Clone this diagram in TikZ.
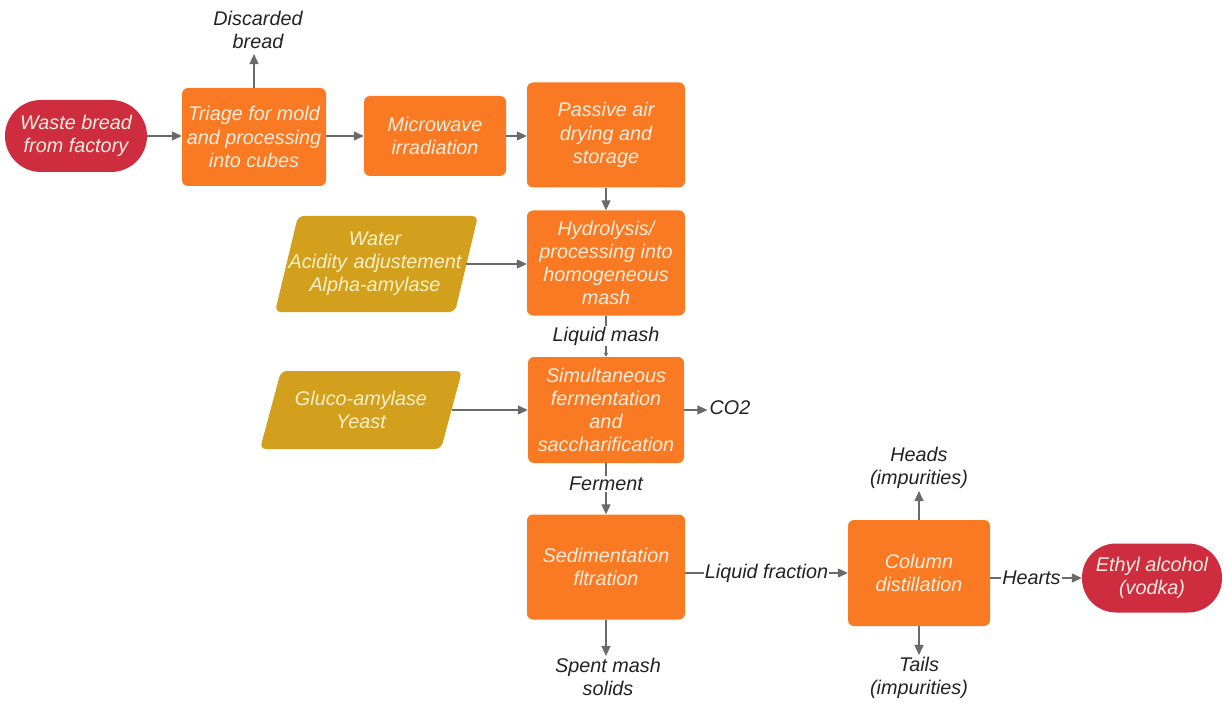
\documentclass[tikz,border=0pt]{standalone}
\usepackage{fontspec}
\setmainfont{Liberation Sans}
\usetikzlibrary{arrows.meta}
\definecolor{orangec}{HTML}{F97A22}
\definecolor{redc}{HTML}{CD2D3F}
\definecolor{goldc}{HTML}{D3A01E}
\definecolor{boxtext}{RGB}{255,236,222}
\definecolor{goldtext}{RGB}{255,240,200}
\definecolor{labc}{HTML}{222222}
\definecolor{arrc}{HTML}{6A6A6A}
\begin{document}
\begin{tikzpicture}[x=1pt,y=-1pt,
  txt/.style={font=\itshape\fontsize{19.8}{23.2}\selectfont, align=center},
  proc/.style={txt, fill=orangec, rounded corners=6pt, text=boxtext, inner sep=0pt},
  term/.style={txt, fill=redc, text=boxtext, inner sep=0pt},
  gtext/.style={txt, text=goldtext, inner sep=0pt},
  lab/.style={txt, text=labc, fill=white, inner sep=2pt},
  arr/.style={draw=arrc, line width=1.3pt, -{Triangle[length=10pt,width=9pt]}},
  arrs/.style={draw=arrc, line width=1.3pt, -{Triangle[length=4pt,width=4pt]}}]
\useasboundingbox[fill=white] (0,0) rectangle (1225,703);

% parallelograms
\fill[goldc, rounded corners=6pt] (275,312) -- (298,216) -- (478,216) -- (455,312) -- cycle;
\fill[goldc, rounded corners=6pt] (260,449) -- (281,371) -- (462,371) -- (441,449) -- cycle;
\node[gtext, text width=182pt, minimum width=182pt] (water) at (375,264) {Water\\Acidity adjustement\\Alpha-amylase};
\node[gtext, text width=181pt, minimum width=181pt] (gluco) at (361,410) {Gluco-amylase\\Yeast};

% process boxes
\node[term, minimum width=142pt, minimum height=72pt, rounded corners=36pt] (waste) at (76,136) {Waste bread\\from factory};
\node[proc, minimum width=144pt, minimum height=98pt] (triage) at (254,137) {Triage for mold\\and processing\\into cubes};
\node[proc, minimum width=142pt, minimum height=80pt] (micro) at (435,136) {Microwave\\irradiation};
\node[proc, minimum width=158pt, minimum height=105pt] (passive) at (606,135) {Passive air\\drying and\\storage};
\node[proc, minimum width=158pt, minimum height=105pt] (hyd) at (606,263) {Hydrolysis/\\processing into\\homogeneous\\mash};
\node[proc, minimum width=156pt, minimum height=106pt] (simul) at (606,410) {Simultaneous\\fermentation\\and\\saccharification};
\node[proc, minimum width=158pt, minimum height=105pt] (sed) at (606,567) {Sedimentation\\fltration};
\node[proc, minimum width=142pt, minimum height=106pt] (col) at (919,573) {Column\\distillation};
\node[term, minimum width=140pt, minimum height=69pt, rounded corners=34pt] (ethyl) at (1152,578) {Ethyl alcohol\\(vodka)};

% labels
\node[lab] (disc) at (258,30) {Discarded\\bread};
\node[lab] (co2) at (730,408) {CO2};
\node[lab] (spent) at (608,677) {Spent mash\\solids};
\node[lab] (heads) at (919,468) {Heads\\(impurities)};
\node[lab] (tails) at (919,678) {Tails\\(impurities)};

% connectors
\draw[arr] (waste.east) -- (triage.west |- waste.east);
\draw[arr] (triage.east |- micro.west) -- (micro.west);
\draw[arr] (micro.east) -- (passive.west |- micro.east);
\draw[arr] (triage.north) -- ([yshift=-3pt]triage.north |- disc.south);
\draw[arr] (passive.south) -- (hyd.north);
\draw[arr] (water.east) -- (hyd.west |- water.east);
\draw[arrs] (hyd.south) -- node[lab, inner sep=1pt] (liqmash) {Liquid mash} (simul.north);
\draw[arr] (gluco.east) -- (simul.west |- gluco.east);
\draw[arr] (simul.east) -- (co2.west |- simul.east);
\draw[arr] (simul.south) -- node[lab, pos=0.4, inner sep=1pt] (ferment) {Ferment} (sed.north);
\draw[arr] (sed.south) -- (sed.south |- spent.north);
\draw[arr] (sed.east |- col.west) -- node[lab, inner sep=1pt] (liqfrac) {Liquid fraction} (col.west);
\draw[arr] (col.north) -- (heads.south);
\draw[arr] (col.south) -- (tails.north);
\draw[arr] (col.east |- ethyl.west) -- node[lab, pos=0.45, inner sep=1pt] (hearts) {Hearts} (ethyl.west);
\end{tikzpicture}
\end{document}
